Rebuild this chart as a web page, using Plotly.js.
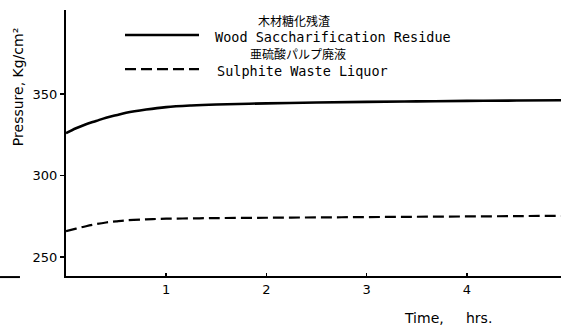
<!DOCTYPE html>
<html>
<head>
<meta charset="utf-8">
<script src="https://cdn.plot.ly/plotly-3.0.1.min.js"></script>
<style>html,body{margin:0;padding:0;background:#fff;}#chart{width:561px;height:327px;}</style>
</head>
<body>
<div id="chart"></div>
<script>
// Data
const timeHrs = [0, 0.1, 0.2, 0.3, 0.4, 0.5, 0.6, 0.8, 1.0, 1.25, 1.5, 2, 2.5, 3, 3.5, 4, 4.5, 4.94];
const woodResidue = [326, 329, 331.5, 333.5, 335.5, 337, 338.5, 340.5, 342, 343, 343.6, 344.3, 344.8, 345.2, 345.5, 345.8, 346, 346.2];
const sulphiteLiquor = [266, 267.5, 269, 270.3, 271.3, 272, 272.6, 273.2, 273.6, 273.8, 274, 274.2, 274.4, 274.6, 274.8, 275, 275.2, 275.4];
const seriesNamesEn = ["Wood Saccharification Residue", "Sulphite Waste Liquor"];
const seriesNamesJa = ["木材糖化残渣", "亜硫酸パルプ廃液"];
const xTicks = [1, 2, 3, 4];
const yTicks = [250, 300, 350];

const font = "DejaVu Sans, sans-serif";
const monoFont = "DejaVu Sans Mono, monospace";
const jaFont = "Noto Sans CJK JP, sans-serif";

const traces = [
  {x: timeHrs, y: woodResidue, name: seriesNamesEn[0], mode: "lines", line: {color: "#000", width: 2.6, shape: "spline"}, showlegend: false},
  {x: timeHrs, y: sulphiteLiquor, name: seriesNamesEn[1], mode: "lines", line: {color: "#000", width: 2.2, dash: "11px,5px", shape: "spline"}, showlegend: false}
];

const layout = {
  width: 561, height: 327,
  margin: {l: 66, r: 0, t: 10, b: 51},
  paper_bgcolor: "#fff", plot_bgcolor: "#fff",
  font: {family: font, size: 13, color: "#000"},
  xaxis: {range: [0, 4.94], tickvals: xTicks, ticktext: xTicks.map(String), ticks: "inside", ticklen: 3, tickwidth: 1.5, tickcolor: "#000",
          showline: true, linecolor: "#000", linewidth: 2, showgrid: false, zeroline: false, tickfont: {size: 13}},
  yaxis: {range: [238.5, 401.5], tickvals: yTicks, ticktext: yTicks.map(String), ticks: "outside", ticklen: 4, tickwidth: 1.5, tickcolor: "#000",
          showline: true, linecolor: "#000", linewidth: 2, showgrid: false, zeroline: false, tickfont: {size: 13}},
  shapes: [
    {type: "line", xref: "paper", yref: "paper", x0: 0.1192, x1: 0.2687, y0: 0.906, y1: 0.906, line: {color: "#000", width: 2.6}},
    {type: "line", xref: "paper", yref: "paper", x0: 0.1192, x1: 0.2687, y0: 0.778, y1: 0.778, line: {color: "#000", width: 2.2, dash: "11px,5px"}},
    {type: "line", xref: "paper", yref: "paper", x0: -0.1333, x1: -0.093, y0: -0.004, y1: -0.004, line: {color: "#000", width: 2}}
  ],
  annotations: [
    {xref: "paper", yref: "paper", x: 0.4606, y: 0.9624, text: seriesNamesJa[0], showarrow: false, xanchor: "center", yanchor: "middle", font: {family: jaFont, size: 12}},
    {xref: "paper", yref: "paper", x: 0.297, y: 0.9, text: seriesNamesEn[0], showarrow: false, xanchor: "left", yanchor: "middle", font: {family: monoFont, size: 13.5}},
    {xref: "paper", yref: "paper", x: 0.4677, y: 0.8346, text: seriesNamesJa[1], showarrow: false, xanchor: "center", yanchor: "middle", font: {family: jaFont, size: 12}},
    {xref: "paper", yref: "paper", x: 0.301, y: 0.7707, text: seriesNamesEn[1], showarrow: false, xanchor: "left", yanchor: "middle", font: {family: monoFont, size: 13.5}},
    {xref: "paper", yref: "paper", x: 0.772, y: -0.158, text: "Time,&nbsp;&nbsp;&nbsp;&nbsp; hrs.", showarrow: false, xanchor: "center", yanchor: "middle", font: {family: font, size: 14}},
    {xref: "paper", yref: "paper", x: -0.097, y: 0.71, text: "Pressure, Kg/cm²", textangle: -90, showarrow: false, xanchor: "center", yanchor: "middle", font: {family: font, size: 14}}
  ]
};

Plotly.newPlot("chart", traces, layout, {displayModeBar: false, staticPlot: true});
</script>
</body>
</html>
